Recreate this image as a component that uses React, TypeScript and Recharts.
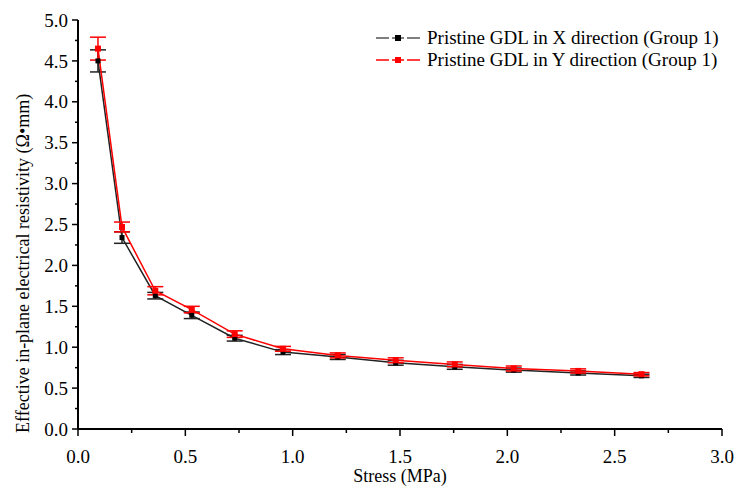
import { LineChart, Line, XAxis, YAxis, ErrorBar } from 'recharts';

const stress = [0.093, 0.205, 0.36, 0.53, 0.73, 0.955, 1.21, 1.48, 1.755, 2.03, 2.33, 2.625];
const xDirection = [4.5, 2.34, 1.63, 1.39, 1.11, 0.94, 0.88, 0.81, 0.76, 0.72, 0.685, 0.65];
const xDirectionErr = [0.135, 0.07, 0.04, 0.04, 0.035, 0.03, 0.03, 0.03, 0.03, 0.025, 0.025, 0.02];
const yDirection = [4.65, 2.47, 1.69, 1.46, 1.16, 0.98, 0.9, 0.84, 0.79, 0.74, 0.71, 0.67];
const yDirectionErr = [0.14, 0.06, 0.05, 0.04, 0.04, 0.03, 0.03, 0.03, 0.03, 0.03, 0.025, 0.02];

const xTicks = [0, 0.25, 0.5, 0.75, 1, 1.25, 1.5, 1.75, 2, 2.25, 2.5, 2.75, 3];
const yTicks = [0, 0.25, 0.5, 0.75, 1, 1.25, 1.5, 1.75, 2, 2.25, 2.5, 2.75, 3, 3.25, 3.5, 3.75, 4, 4.25, 4.5, 4.75, 5];

const seriesNames = ['Pristine GDL in X direction (Group 1)', 'Pristine GDL in Y direction (Group 1)'];

const data = stress.map((s, i) => ({
  stress: s,
  gx: xDirection[i],
  gxErr: xDirectionErr[i],
  gy: yDirection[i],
  gyErr: yDirectionErr[i],
}));

const FONT = '"Liberation Serif", "Times New Roman", serif';

const isMajor = (v: number) => Math.abs(v * 2 - Math.round(v * 2)) < 1e-6;

const XTick = ({ x, y, payload }: any) => {
  const major = isMajor(payload.value);
  return (
    <g>
      <line x1={x} x2={x} y1={y} y2={y + (major ? 7 : 4)} stroke="#000" strokeWidth={1.5} />
      {major && (
        <text x={x} y={y + 34} textAnchor="middle" fontFamily={FONT} fontSize={19} fill="#000">
          {payload.value.toFixed(1)}
        </text>
      )}
    </g>
  );
};

const YTick = ({ x, y, payload }: any) => {
  const major = isMajor(payload.value);
  return (
    <g>
      <line x1={x} x2={x - (major ? 6 : 3)} y1={y} y2={y} stroke="#000" strokeWidth={1.5} />
      {major && (
        <text x={x - 10} y={y} dy="0.35em" textAnchor="end" fontFamily={FONT} fontSize={19} fill="#000">
          {payload.value.toFixed(1)}
        </text>
      )}
    </g>
  );
};

const squareDot = (color: string, size: number) => (p: any) => (
  <rect key={p.index} x={p.cx - size / 2} y={p.cy - size / 2} width={size} height={size} fill={color} />
);

const LegendBox = () => (
  <div style={{ position: 'absolute', left: 374, top: 27, fontFamily: FONT, fontSize: 19, lineHeight: '22px' }}>
    {[
      { name: seriesNames[0], line: '#555', dot: '#000' },
      { name: seriesNames[1], line: '#ff0000', dot: '#ff0000' },
    ].map((e) => (
      <div key={e.name} style={{ display: 'flex', alignItems: 'center', whiteSpace: 'nowrap' }}>
        <svg width={48} height={10}>
          <line x1={2} x2={46} y1={5} y2={5} stroke={e.line} strokeWidth={1.5} />
          <rect x={21} y={2} width={6} height={6} fill={e.dot} />
          <rect x={15} y={0} width={3} height={10} fill="#fff" />
          <rect x={30} y={0} width={3} height={10} fill="#fff" />
        </svg>
        <span style={{ marginLeft: 5, color: '#000' }}>{e.name}</span>
      </div>
    ))}
  </div>
);

export default function App() {
  return (
    <div style={{ position: 'absolute', left: 0, top: 0, width: 736, height: 490, background: '#fff' }}>
      <LineChart width={736} height={490} data={data} margin={{ top: 20, right: 14, bottom: 0, left: 0 }}>
        <XAxis
          dataKey="stress"
          type="number"
          domain={[0, 3]}
          ticks={xTicks}
          interval={0}
          tickSize={0}
          tickMargin={0}
          tickLine={false}
          tick={<XTick />}
          height={61}
          axisLine={{ stroke: '#000', strokeWidth: 2 }}
          label={() => (
            <text x={400} y={482} textAnchor="middle" fontFamily={FONT} fontSize={18} fill="#000">
              Stress (MPa)
            </text>
          )}
        />
        <XAxis xAxisId="top" orientation="top" type="number" domain={[0, 3]} height={0} tick={false} tickLine={false} axisLine={{ stroke: '#000', strokeWidth: 2 }} />
        <YAxis
          type="number"
          domain={[0, 5]}
          ticks={yTicks}
          interval={0}
          tickSize={0}
          tickMargin={0}
          tickLine={false}
          tick={<YTick />}
          width={78}
          axisLine={{ stroke: '#000', strokeWidth: 2 }}
          label={() => (
            <text x={29} y={433} transform="rotate(-90 29 433)" textAnchor="start" fontFamily={FONT} fontSize={18} fill="#000">
              Effective in-plane electrical resistivity (Ω•mm)
            </text>
          )}
        />
        <YAxis yAxisId="right" orientation="right" type="number" domain={[0, 5]} width={0} tick={false} tickLine={false} axisLine={{ stroke: '#000', strokeWidth: 2 }} />
        <Line
          dataKey="gx"
          stroke="#222"
          strokeWidth={1.5}
          dot={squareDot('#000', 5)}
          isAnimationActive={false}
        >
          <ErrorBar dataKey="gxErr" direction="y" width={8} stroke="#222" strokeWidth={1.5} />
        </Line>
        <Line
          dataKey="gy"
          stroke="#ff0000"
          strokeWidth={1.5}
          dot={squareDot('#ff0000', 6)}
          isAnimationActive={false}
        >
          <ErrorBar dataKey="gyErr" direction="y" width={8} stroke="#ff0000" strokeWidth={1.5} />
        </Line>
      </LineChart>
      <LegendBox />
    </div>
  );
}
